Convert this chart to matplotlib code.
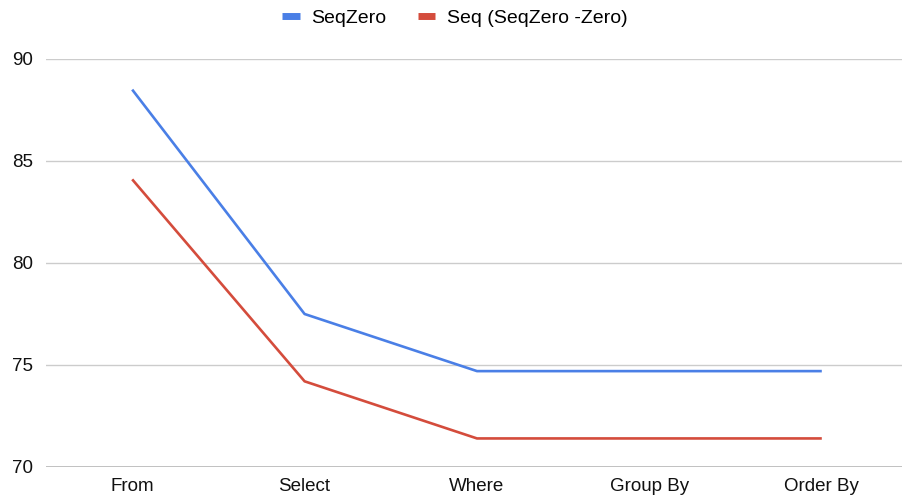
import matplotlib.pyplot as plt
from matplotlib.lines import Line2D

plt.rcParams["font.family"] = ["Liberation Sans", "DejaVu Sans"]

# data
clauses = ["From", "Select", "Where", "Group By", "Order By"]
seqzero = [88.5, 77.5, 74.7, 74.7, 74.7]
seq_no_zero = [84.1, 74.2, 71.4, 71.4, 71.4]
y_ticks = [70, 75, 80, 85, 90]

blue = "#4a7fe6"
red = "#d44c3c"

W, H = 903, 496
fig = plt.figure(figsize=(W / 100, H / 100), dpi=100)
# plot area: left edge at x=46, bottom gridline at y=467, top at y=59 (chart is cropped on the right)
ax = fig.add_axes([46 / W, (H - 467) / H, 862 / W, 408 / H])

x = range(len(clauses))
ax.plot(x, seqzero, color=blue, linewidth=1.9, solid_capstyle="butt", zorder=3)
ax.plot(x, seq_no_zero, color=red, linewidth=1.9, solid_capstyle="butt", zorder=3)

ax.set_xlim(-0.5, 4.5)
ax.set_ylim(70, 90)
ax.set_yticks(y_ticks)
ax.set_xticks(list(x))
ax.set_xticklabels(clauses)

for s in ax.spines.values():
    s.set_visible(False)
ax.grid(axis="y", color="#cccccc", linewidth=1)
ax.axhline(70, color="#b8b8b8", linewidth=1.2, zorder=2)
ax.tick_params(axis="both", length=0, labelsize=13.5, colors="#111111")
ax.tick_params(axis="y", pad=9)
ax.tick_params(axis="x", pad=8)

handles = [
    Line2D([0], [0], color=blue, linewidth=5, solid_capstyle="butt"),
    Line2D([0], [0], color=red, linewidth=5, solid_capstyle="butt"),
]
fig.legend(handles, ["SeqZero", "Seq (SeqZero -Zero)"], loc="center",
           bbox_to_anchor=(455 / W, 1 - 18 / H), ncol=2, frameon=False,
           fontsize=14, handlelength=0.9, handletextpad=0.6, columnspacing=1.6)

fig.savefig("out.png", dpi=100)
